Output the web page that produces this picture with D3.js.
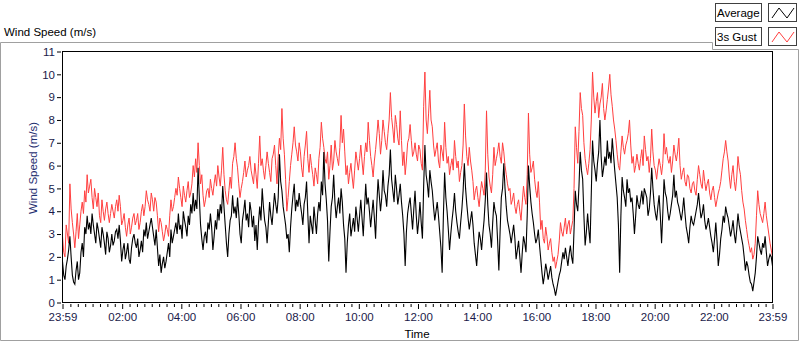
<!DOCTYPE html>
<html>
<head>
<meta charset="utf-8">
<script src="https://cdn.jsdelivr.net/npm/d3@7"></script>
<style>
  body { margin: 0; background: #fff; }
  svg text { font-family: "Liberation Sans", Arial, sans-serif; }
</style>
</head>
<body>
<svg id="chart" width="800" height="342"></svg>
<script>
// wind speed, one sample every 2.5 minutes from 23:59 to 23:59
var gustSpeed = [
  2.9,2.2,2.0,3.4,3.0,2.6,5.2,4.1,3.5,3.0,2.4,3.1,3.9,2.8,3.4,4.0,4.4,3.9,4.9,4.4,
  5.6,4.8,5.1,5.4,4.6,4.1,5.0,4.6,4.2,4.8,3.8,3.5,4.5,4.0,3.6,4.1,4.4,3.9,3.5,3.9,
  4.3,4.0,3.7,4.2,4.5,4.0,4.7,4.2,3.4,3.6,3.9,3.3,2.9,3.4,3.7,3.0,3.3,3.7,3.9,3.4,
  3.6,3.9,3.2,3.5,4.0,4.3,3.8,4.2,4.9,4.5,4.3,4.0,4.8,4.5,4.0,4.6,4.4,3.8,3.1,3.7,
  3.5,3.1,2.7,3.0,3.4,3.2,2.9,3.8,4.5,4.0,4.2,4.6,5.0,4.7,5.5,5.0,4.6,4.2,5.1,4.7,
  4.4,4.9,5.3,4.6,4.8,5.2,6.0,5.5,6.3,5.7,7.0,6.0,5.2,5.6,4.7,4.2,4.5,4.9,5.0,4.6,
  5.4,5.0,4.7,5.2,5.6,5.1,6.0,5.5,5.1,5.8,6.8,5.6,4.9,4.5,4.3,4.9,5.5,5.0,6.1,6.4,
  7.0,6.3,5.9,5.2,4.6,5.0,5.3,5.7,6.2,5.5,5.8,6.0,6.4,5.8,5.5,5.2,6.1,5.6,5.0,6.1,
  7.3,6.0,6.3,5.8,5.4,6.0,6.6,6.1,5.7,5.3,6.3,6.5,6.9,6.0,5.2,6.4,7.2,6.7,8.5,7.2,
  6.5,5.4,4.0,4.6,5.3,6.0,6.5,7.0,7.7,6.9,6.6,6.2,7.0,6.6,5.9,5.5,6.4,6.9,7.5,6.3,
  5.7,6.5,6.0,5.6,5.1,5.9,5.6,5.2,6.3,6.8,7.9,7.2,6.8,6.3,6.1,6.6,5.4,6.0,6.9,5.8,
  6.2,7.1,6.6,6.3,6.0,6.8,8.2,7.0,7.6,6.6,5.6,6.0,5.2,5.7,6.1,5.5,5.0,5.8,6.6,6.2,
  5.8,6.3,6.9,6.2,5.6,6.4,7.0,6.6,7.9,7.1,6.4,6.0,5.5,6.2,6.7,7.3,8.0,7.4,6.5,7.1,
  8.0,7.5,7.0,6.7,7.4,8.0,9.2,8.1,7.6,7.0,8.2,7.8,7.2,6.9,8.4,7.1,6.0,6.6,5.6,6.2,
  7.0,7.2,7.8,7.1,6.4,6.6,7.0,6.5,6.2,6.9,6.7,6.1,5.8,8.6,10.1,8.0,7.4,8.3,9.3,8.0,
  7.7,6.9,6.4,6.7,7.0,6.2,5.9,6.9,6.6,6.2,7.9,6.8,6.1,6.4,5.6,6.0,6.3,5.8,7.1,6.4,
  5.9,6.2,5.3,5.7,6.0,6.9,8.7,7.3,6.4,6.0,6.8,6.2,5.8,5.3,4.5,4.9,5.1,4.6,4.2,4.8,
  5.3,5.0,4.7,5.8,8.4,6.5,5.5,5.1,4.8,5.6,6.8,6.0,6.3,6.6,7.0,6.4,6.1,7.0,6.6,6.0,
  5.6,5.2,4.9,5.0,4.3,4.5,4.8,4.2,3.9,4.3,4.5,4.0,3.6,4.4,5.1,4.6,4.3,5.6,8.3,6.5,
  5.7,5.9,6.2,5.4,4.9,4.6,5.3,4.4,3.2,3.6,2.8,2.6,3.3,2.9,2.3,2.6,2.8,2.2,1.8,2.0,
  1.5,1.8,2.1,2.7,3.5,3.1,2.9,3.3,3.7,3.0,3.4,3.6,3.0,3.3,3.6,5.0,7.7,6.8,6.1,7.5,
  9.2,8.5,8.2,7.0,6.3,5.9,5.6,6.1,6.7,8.0,10.1,9.0,8.3,8.8,9.2,8.1,8.7,9.0,9.6,8.5,
  8.0,8.4,8.9,9.4,10.0,9.1,8.6,8.0,7.6,7.1,6.5,6.0,5.8,6.6,7.3,6.8,6.5,6.9,7.1,7.4,
  8.0,6.9,6.1,6.4,5.7,6.0,6.5,6.1,5.8,6.3,6.7,6.0,7.3,6.7,6.2,6.4,5.7,6.3,7.6,6.6,
  6.0,5.8,5.4,5.9,6.3,6.0,5.6,6.1,7.4,6.5,6.8,6.3,6.1,6.4,5.7,6.2,6.9,6.5,6.2,6.6,
  7.2,6.0,5.4,5.7,5.9,5.3,5.1,5.6,5.5,5.0,4.8,5.2,5.3,4.9,4.7,5.4,6.0,5.6,5.2,5.0,
  5.8,5.3,4.9,5.2,5.4,4.8,4.5,4.9,5.1,4.6,4.2,4.5,4.8,5.0,5.3,5.8,6.3,6.6,7.1,6.6,
  6.2,5.5,5.0,5.6,6.0,5.3,4.9,5.5,6.4,5.9,5.6,4.9,4.4,4.1,3.6,3.2,2.8,2.5,2.2,2.4,
  1.9,2.1,2.6,3.8,4.9,4.3,3.9,3.7,3.5,3.9,4.4,3.8,3.4,3.0,2.6,2.3,2.0
];
var avgSpeed = [
  1.8,1.2,1.0,1.6,1.9,2.3,2.9,2.0,1.2,0.9,0.8,1.4,1.8,1.0,1.3,2.2,2.6,2.0,3.3,3.0,
  3.8,3.2,3.5,3.0,3.9,3.4,3.0,2.6,3.5,3.2,2.8,2.4,3.3,3.0,2.6,2.1,3.1,2.8,2.2,2.5,
  3.0,2.5,2.7,3.1,3.2,2.8,3.4,2.7,1.8,2.3,2.6,1.9,2.2,2.6,1.9,1.7,2.4,2.8,3.0,2.6,
  2.4,2.8,2.0,2.3,2.7,2.2,3.2,2.9,3.5,2.8,3.1,3.4,3.7,3.3,2.9,2.5,3.2,2.4,1.6,2.1,
  1.3,1.7,2.0,1.5,1.8,2.2,2.6,2.0,3.2,2.6,2.9,3.2,3.5,3.0,3.9,3.2,3.4,2.8,4.0,3.6,
  3.3,2.9,3.8,3.4,4.3,3.9,4.8,4.0,4.5,4.1,5.9,4.6,3.4,2.8,2.3,2.9,3.1,2.6,3.5,3.2,
  3.9,3.3,2.3,2.9,3.6,3.2,4.1,3.6,4.3,3.9,5.1,4.2,3.4,2.6,2.0,3.0,3.6,3.8,4.7,3.9,
  4.2,3.7,4.6,3.9,3.0,2.6,3.6,4.0,4.5,3.6,3.9,3.3,4.4,4.0,3.3,3.8,2.7,3.4,2.3,3.5,
  4.2,3.6,5.0,4.2,3.6,3.3,2.6,3.5,4.4,3.8,3.4,4.1,4.8,4.3,3.9,4.6,6.5,5.3,4.9,4.2,
  3.8,3.4,2.8,3.0,2.2,3.3,4.1,4.7,5.2,4.0,4.5,4.2,4.8,4.3,3.9,3.4,4.3,4.6,5.3,3.9,
  2.6,3.8,3.4,3.0,4.2,3.6,3.0,3.9,4.4,4.0,5.3,4.7,6.6,5.2,4.5,3.6,1.8,3.1,4.2,4.6,
  5.6,4.4,3.7,4.2,4.6,3.9,5.0,4.4,3.4,2.8,1.3,2.6,3.4,3.9,2.9,3.3,3.7,3.1,4.2,3.7,
  3.1,3.8,4.5,3.7,2.9,4.1,5.2,4.3,4.6,4.0,3.3,3.9,4.5,3.7,2.8,4.3,5.4,4.7,4.0,4.6,
  5.8,4.9,4.7,4.2,5.1,5.6,6.7,5.4,4.9,4.4,5.6,5.0,4.3,4.7,5.2,4.4,3.8,3.0,1.6,3.1,
  3.9,4.3,4.6,3.9,3.2,4.1,4.9,3.8,3.0,3.6,4.4,3.5,2.8,5.1,6.9,5.6,5.2,4.6,5.8,5.3,
  4.9,4.2,3.6,4.0,4.4,3.8,3.1,2.4,1.3,3.8,5.7,4.6,4.0,3.2,2.3,3.0,3.6,4.1,4.8,4.0,
  3.5,3.1,2.8,3.5,4.1,4.9,6.1,5.0,4.3,3.7,3.2,3.6,4.0,3.4,2.6,2.1,1.6,2.4,3.1,2.8,
  2.3,3.0,3.6,4.5,5.7,4.3,3.4,3.0,2.4,3.5,4.4,4.0,3.8,2.7,1.4,3.1,4.6,5.0,6.1,5.0,
  4.2,3.6,3.3,3.0,2.6,3.0,3.4,2.8,1.9,2.3,2.7,2.0,1.3,2.2,2.9,2.6,2.2,3.8,6.0,5.1,
  4.4,3.9,3.5,3.0,2.6,2.8,3.2,2.5,1.9,1.3,0.8,1.2,1.7,1.4,1.0,1.3,1.6,1.1,0.8,0.6,
  0.3,0.6,0.9,1.2,1.4,1.8,2.2,1.9,2.4,2.0,1.6,2.1,2.5,2.0,1.7,3.2,4.9,4.3,4.0,5.1,
  6.6,5.8,5.4,3.8,2.5,3.1,3.9,3.2,2.6,4.8,7.1,6.2,5.8,5.3,6.1,6.6,8.0,6.4,5.5,5.9,
  6.4,6.0,7.1,6.3,6.6,6.1,7.2,6.5,5.8,5.2,4.6,3.4,1.3,3.8,5.5,4.9,4.6,4.2,5.4,4.8,
  5.0,4.4,4.6,3.9,3.0,3.8,4.7,4.3,4.1,4.5,4.9,4.3,5.0,4.8,4.6,3.8,4.1,4.8,5.9,5.0,
  4.3,3.9,3.6,4.2,4.7,3.8,2.6,3.9,5.4,4.8,4.6,4.0,3.6,3.9,4.3,4.7,5.6,4.6,4.9,4.4,
  4.2,3.9,3.6,4.0,4.6,3.9,3.3,3.0,2.6,3.3,3.8,3.5,3.4,3.7,4.0,4.3,4.8,4.2,3.7,3.9,
  4.3,3.6,3.2,3.4,3.7,3.3,2.9,2.6,2.2,2.8,3.5,2.7,1.6,2.1,2.8,3.2,3.8,3.5,4.2,3.9,
  3.7,3.3,2.9,3.2,3.6,3.0,2.6,3.2,3.9,3.4,3.1,2.8,2.5,2.0,1.4,1.8,1.6,1.2,0.9,0.8,
  0.5,0.9,1.3,2.0,2.9,2.6,2.3,2.1,2.6,2.4,2.9,2.2,1.6,1.9,2.1,2.0,1.6
];
var seriesNames = ["Average", "3s Gust"];
var seriesColors = ["#000000", "#ff3f3f"];
var yTicks = [0,1,2,3,4,5,6,7,8,9,10,11];
var xTickLabels = ["23:59","02:00","04:00","06:00","08:00","10:00","12:00","14:00","16:00","18:00","20:00","22:00","23:59"];

var svg = d3.select("#chart");
var t0 = new Date(2020, 0, 1, 23, 59);
var t1 = new Date(2020, 0, 2, 23, 59);
var stepSec = 150;

var x = d3.scaleTime().domain([t0, t1]).range([62.5, 772.5]);
var y = d3.scaleLinear().domain([0, 11]).range([302.5, 51.5]);

// outer frame with notch for the legend
svg.append("path")
  .attr("d", "M0.5,42.5H712.5V49.5H798.5V340.5H0.5Z")
  .attr("fill", "none").attr("stroke", "#a0a0a0");

svg.append("text").attr("x", 4).attr("y", 36)
  .attr("font-size", "11.5px").attr("fill", "#000")
  .text("Wind Speed (m/s)");

// legend
seriesNames.forEach(function(name, i) {
  var ty = 3 + i * 24;
  var g = svg.append("g");
  g.append("rect").attr("x", 715.5).attr("y", ty + 0.5).attr("width", 46).attr("height", 18)
    .attr("fill", "#fff").attr("stroke", "#404040");
  g.append("text").attr("x", 717).attr("y", ty + 14)
    .attr("font-size", "11.5px").attr("fill", "#000").text(name);
  g.append("rect").attr("x", 768.5).attr("y", ty + 0.5).attr("width", 28).attr("height", 18)
    .attr("fill", "#fff").attr("stroke", "#404040");
  g.append("path")
    .attr("d", "M772," + (ty + 15) + "L779," + (ty + 5) + "L787," + (ty + 15) + "L794," + (ty + 5))
    .attr("fill", "none").attr("stroke", seriesColors[i]);
});

function timeAt(i) { return new Date(t0.getTime() + i * stepSec * 1000); }

var line = d3.line()
  .x(function(d, i) { return x(timeAt(i)); })
  .y(function(d) { return y(d); });

svg.append("path").datum(gustSpeed)
  .attr("d", line).attr("fill", "none").attr("stroke", seriesColors[1]).attr("stroke-width", 1);
svg.append("path").datum(avgSpeed)
  .attr("d", line).attr("fill", "none").attr("stroke", seriesColors[0]).attr("stroke-width", 1.1);

svg.append("rect").attr("x", 62.5).attr("y", 51.5).attr("width", 710).attr("height", 251)
  .attr("fill", "none").attr("stroke", "#000");

// y axis
var yAxis = svg.append("g").attr("transform", "translate(61,0)")
  .call(d3.axisLeft(y).tickValues(yTicks).tickSize(4).tickPadding(2).tickFormat(d3.format("d")));
yAxis.select(".domain").remove();
yAxis.selectAll("text").attr("font-size", "11.5px").attr("fill", "#1a1a4a")
  .attr("font-family", "Liberation Sans, Arial, sans-serif");
yAxis.selectAll("line").attr("stroke", "#000");

svg.append("text")
  .attr("transform", "translate(37,168) rotate(-90)")
  .attr("text-anchor", "middle").attr("font-size", "11.5px").attr("fill", "#1f2f70")
  .text("Wind Speed (m/s)");

// x axis
var majorTimes = xTickLabels.map(function(s, i) {
  if (i === 0) return t0;
  if (i === xTickLabels.length - 1) return t1;
  var p = s.split(":");
  return new Date(2020, 0, 2, +p[0], +p[1]);
});
var minorTimes = d3.timeMinute.every(15).range(new Date(2020, 0, 2, 0, 15), t1)
  .filter(function(d) { return d.getMinutes() !== 0 || d.getHours() % 2 !== 0; });

var xMinor = svg.append("g").attr("transform", "translate(0,304)")
  .call(d3.axisBottom(x).tickValues(minorTimes).tickSize(3).tickFormat(""));
xMinor.select(".domain").remove();

var xAxis = svg.append("g").attr("transform", "translate(0,304)")
  .call(d3.axisBottom(x).tickValues(majorTimes).tickSize(5).tickPadding(4)
    .tickFormat(function(d, i) { return xTickLabels[i]; }));
xAxis.select(".domain").remove();
xAxis.selectAll("text").attr("font-size", "11.5px").attr("fill", "#1a1a4a")
  .attr("font-family", "Liberation Sans, Arial, sans-serif");

svg.append("text").attr("x", 417).attr("y", 338).attr("text-anchor", "middle")
  .attr("font-size", "11.5px").attr("fill", "#000").text("Time");
</script>
</body>
</html>
